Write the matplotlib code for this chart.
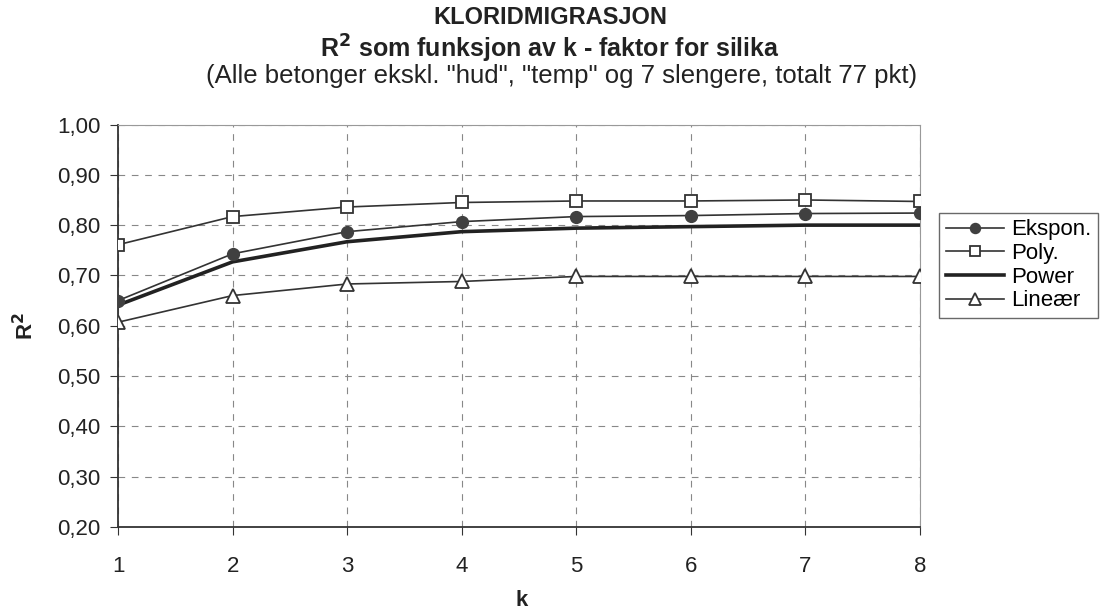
import matplotlib
matplotlib.use("Agg")
import matplotlib.pyplot as plt
from matplotlib.ticker import FuncFormatter

plt.rcParams['font.family'] = ['Liberation Sans', 'DejaVu Sans']

k = [1, 2, 3, 4, 5, 6, 7, 8]
ekspon = [0.650, 0.743, 0.787, 0.807, 0.817, 0.819, 0.823, 0.824]
poly = [0.761, 0.817, 0.836, 0.845, 0.848, 0.848, 0.850, 0.847]
power = [0.641, 0.727, 0.767, 0.787, 0.794, 0.797, 0.800, 0.800]
linear = [0.607, 0.660, 0.683, 0.688, 0.698, 0.698, 0.698, 0.698]
labels = ["Ekspon.", "Poly.", "Power", "Lineær"]

fig = plt.figure(figsize=(11.01, 6.13), dpi=100)
ax = fig.add_axes([0.1072, 0.1403, 0.7284, 0.6566])

c = '#333333'
ax.plot(k, ekspon, color=c, lw=1.2, marker='o', ms=8.5, mfc='#404040', mec='#404040', label=labels[0], zorder=4)
ax.plot(k, poly, color=c, lw=1.2, marker='s', ms=8.5, mfc='white', mec=c, mew=1.3, label=labels[1], zorder=4)
ax.plot(k, power, color='#222222', lw=2.6, label=labels[2], zorder=3)
ax.plot(k, linear, color=c, lw=1.2, marker='^', ms=9.5, mfc='white', mec=c, mew=1.3, label=labels[3], zorder=4)

ax.set_xlim(1, 8)
ax.set_ylim(0.2, 1.0)
ax.set_xticks(k)
ax.set_yticks([0.2, 0.3, 0.4, 0.5, 0.6, 0.7, 0.8, 0.9, 1.0])
ax.yaxis.set_major_formatter(FuncFormatter(lambda v, p: f"{v:.2f}".replace('.', ',')))
ax.tick_params(labelsize=16, direction='out', length=5.8, color='#333333', colors='#222222')
ax.tick_params(axis='y', pad=7)
ax.tick_params(axis='x', pad=15)
ax.grid(True, color='#888888', ls=(0, (6, 6)), lw=0.8)
for s in ['left', 'bottom']:
    ax.spines[s].set_color('#333333')
    ax.spines[s].set_linewidth(1.3)
for s in ['top', 'right']:
    ax.spines[s].set_color('#999999')
    ax.spines[s].set_linewidth(0.8)

tc = '#222222'
fig.text(0.4995, 0.972, "KLORIDMIGRASJON", ha='center', va='center', fontsize=17, fontweight='bold', color=tc)
fig.text(0.4995, 0.920, r"R$^\mathbf{2}$ som funksjon av k - faktor for silika", ha='center', va='center', fontsize=18, fontweight='bold', color=tc)
fig.text(0.5105, 0.876, '(Alle betonger ekskl. "hud", "temp" og 7 slengere, totalt 77 pkt)', ha='center', va='center', fontsize=18.5, color=tc)
fig.text(0.023, 0.468, r"R$^\mathbf{2}$", ha='center', va='center', rotation=90, fontsize=16, fontweight='bold', color=tc)
fig.text(0.4735, 0.004, "k", ha='center', va='bottom', fontsize=16, fontweight='bold', color=tc)

leg = fig.legend(loc='upper left', bbox_to_anchor=(0.853, 0.653), fontsize=16, frameon=True,
                 fancybox=False, edgecolor='#444444', handlelength=2.6, handletextpad=0.35,
                 borderpad=0.3, labelspacing=0.12, borderaxespad=0, markerscale=0.85)
leg.get_frame().set_linewidth(1.0)

fig.savefig("out.png", dpi=100)
